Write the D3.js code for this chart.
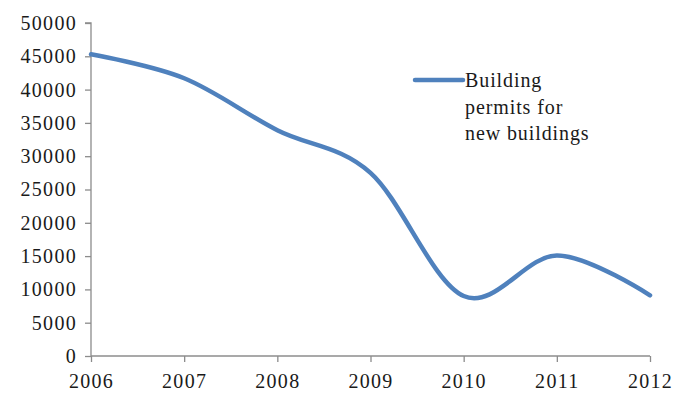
<!DOCTYPE html>
<html>
<head>
<meta charset="utf-8">
<script src="https://cdn.jsdelivr.net/npm/d3@7"></script>
<style>
  body { margin: 0; background: #fff; }
  svg text { font-family: "Liberation Serif", "Times New Roman", serif; fill: #1a1a1a; }
</style>
</head>
<body>
<div id="chart"></div>
<script>
// data
var years = [2006, 2007, 2008, 2009, 2010, 2011, 2012];
var permits = [45300, 41700, 33900, 27500, 9000, 15100, 9100];
var yTicks = [0, 5000, 10000, 15000, 20000, 25000, 30000, 35000, 40000, 45000, 50000];
var legendLines = ["Building", "permits for", "new buildings"];

var width = 673, height = 394;
var margin = {top: 23, right: 23, bottom: 38, left: 91};

var svg = d3.select('#chart').append('svg')
  .attr('width', width)
  .attr('height', height);

var x = d3.scaleLinear()
  .domain([2006, 2012])
  .range([margin.left, width - margin.right]);

var y = d3.scaleLinear()
  .domain([0, 50000])
  .range([height - margin.bottom, margin.top]);

var axisColor = '#8c8c8c';

// y axis
var yAxis = svg.append('g')
  .attr('transform', 'translate(' + margin.left + ',0)')
  .call(d3.axisLeft(y).tickValues(yTicks).tickSize(6).tickPadding(8).tickFormat(d3.format('d')));

// x axis
var xAxis = svg.append('g')
  .attr('transform', 'translate(0,' + (height - margin.bottom) + ')')
  .call(d3.axisBottom(x).tickValues(years).tickSize(6).tickPadding(12).tickFormat(d3.format('d')));

[yAxis, xAxis].forEach(function (g) {
  g.select('.domain').attr('stroke', axisColor).attr('stroke-width', 1.3);
  g.selectAll('.tick line').attr('stroke', axisColor).attr('stroke-width', 1.3);
  g.selectAll('.tick text')
    .style('font-size', '20px')
    .style('letter-spacing', '1.3px')
    .attr('fill', '#1a1a1a');
});
// trim the outer tick bits of the path so the axes look like Excel's
yAxis.select('.domain').attr('d', 'M-6,' + y(50000) + 'H0V' + y(0));
xAxis.select('.domain').attr('d', 'M' + x(2006) + ',0H' + x(2012));

// smoothed line
var line = d3.line()
  .x(function (d, i) { return x(years[i]); })
  .y(function (d) { return y(d); })
  .curve(d3.curveCardinal.tension(0));

svg.append('path')
  .datum(permits)
  .attr('fill', 'none')
  .attr('stroke', '#4f81bd')
  .attr('stroke-width', 4.5)
  .attr('stroke-linecap', 'round')
  .attr('d', line);

// legend
var legend = svg.append('g').attr('transform', 'translate(415,80)');
legend.append('line')
  .attr('x1', 0).attr('x2', 48)
  .attr('y1', 0).attr('y2', 0)
  .attr('stroke', '#4f81bd')
  .attr('stroke-width', 4.5)
  .attr('stroke-linecap', 'round');

legend.selectAll('text.leg')
  .data(legendLines)
  .enter().append('text')
  .attr('class', 'leg')
  .attr('x', 50)
  .attr('y', function (d, i) { return 7 + i * 26.5; })
  .style('font-size', '20px')
  .style('letter-spacing', '0.9px')
  .text(function (d) { return d; });
</script>
</body>
</html>
